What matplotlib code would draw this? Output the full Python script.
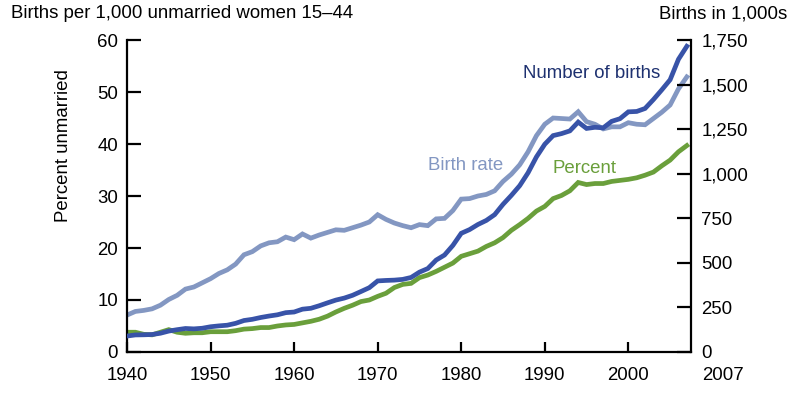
import numpy as np
import matplotlib
matplotlib.use('Agg')
import matplotlib.pyplot as plt

plt.rcParams['font.family'] = ['Liberation Sans', 'DejaVu Sans']

years = list(range(1940, 2008))
# births per 1,000 unmarried women 15-44
birth_rate = [7.1, 7.8, 8.0, 8.3, 9.0, 10.1, 10.9, 12.1, 12.5, 13.3,
              14.1, 15.1, 15.8, 16.9, 18.7, 19.3, 20.4, 21.0, 21.2, 22.1,
              21.6, 22.7, 21.9, 22.5, 23.0, 23.5, 23.4, 23.9, 24.4, 25.0,
              26.4, 25.5, 24.8, 24.3, 23.9, 24.5, 24.3, 25.6, 25.7, 27.2,
              29.4, 29.5, 30.0, 30.3, 31.0, 32.8, 34.2, 36.0, 38.5, 41.6,
              43.8, 45.0, 44.9, 44.8, 46.2, 44.3, 43.8, 42.9, 43.3, 43.3,
              44.1, 43.8, 43.7, 44.9, 46.1, 47.5, 50.6, 52.9]
# percent of births to unmarried women
percent = [3.8, 3.8, 3.4, 3.3, 3.8, 4.3, 3.8, 3.6, 3.7, 3.7,
           3.9, 3.9, 3.9, 4.1, 4.4, 4.5, 4.7, 4.7, 5.0, 5.2,
           5.3, 5.6, 5.9, 6.3, 6.9, 7.7, 8.4, 9.0, 9.7, 10.0,
           10.7, 11.3, 12.4, 13.0, 13.2, 14.3, 14.8, 15.5, 16.3, 17.1,
           18.4, 18.9, 19.4, 20.3, 21.0, 22.0, 23.4, 24.5, 25.7, 27.1,
           28.0, 29.5, 30.1, 31.0, 32.6, 32.2, 32.4, 32.4, 32.8, 33.0,
           33.2, 33.5, 34.0, 34.6, 35.8, 36.9, 38.5, 39.7]
# number of births, thousands
births = [89.5, 95.7, 96.5, 98.1, 105.2, 117.4, 125.2, 131.9, 129.7, 133.2,
          141.6, 146.5, 150.3, 160.8, 176.6, 183.3, 193.5, 201.7, 208.7, 220.6,
          224.3, 240.2, 245.1, 259.4, 275.7, 291.2, 302.4, 318.1, 339.2, 360.8,
          398.7, 401.4, 403.2, 407.3, 418.1, 447.9, 468.1, 515.7, 543.9, 597.8,
          665.7, 686.6, 715.2, 737.9, 770.4, 828.2, 878.5, 933.0, 1005.3, 1094.2,
          1165.4, 1213.8, 1224.9, 1240.2, 1289.6, 1253.9, 1260.3, 1257.4, 1293.6, 1308.6,
          1347.0, 1349.2, 1365.9, 1415.8, 1470.2, 1527.0, 1641.9, 1714.6]

x_ticks = [1940, 1950, 1960, 1970, 1980, 1990, 2000]
left_ticks = [0, 10, 20, 30, 40, 50, 60]
right_ticks = [0, 250, 500, 750, 1000, 1250, 1500, 1750]

c_rate = '#8397C2'
c_births = '#3853A8'
c_births_txt = '#1E3170'
c_pct = '#6A9F3B'

W, H = 800, 398
fig = plt.figure(figsize=(8, 3.98), dpi=100)
ax = fig.add_axes([127/W, 1-352/H, (691-127)/W, (352-40)/H])
ax2 = ax.twinx()

lw = 3.4
ax.plot(years, birth_rate, color=c_rate, lw=lw, solid_joinstyle='miter')
ax.plot(years, percent, color=c_pct, lw=lw, solid_joinstyle='miter')
ax2.plot(years, births, color=c_births, lw=lw, solid_joinstyle='miter')

ax.set_xlim(1940, 2007.5)
ax.set_ylim(0, 60)
ax2.set_ylim(0, 1750)
ax.set_xticks(x_ticks)
ax.set_yticks(left_ticks)
ax2.set_yticks(right_ticks)
ax2.set_yticklabels([f'{v:,}' for v in right_ticks])

for a in (ax, ax2):
    a.spines['top'].set_visible(False)
    for s in a.spines.values():
        s.set_linewidth(1.6)
ax.spines['right'].set_visible(False)
ax2.spines['left'].set_visible(False)
ax2.spines['bottom'].set_visible(False)

fs = 13.4
ax.tick_params(axis='x', direction='in', length=7, width=1.6, pad=10.5, labelsize=fs)
ax.tick_params(axis='y', direction='in', length=10, width=1.6, pad=6.5, labelsize=fs)
ax2.tick_params(axis='y', direction='in', length=10, width=1.6, pad=7.5, labelsize=fs)

fig.text(723/W, 1-375/H, '2007', ha='center', va='center', fontsize=fs)
fig.text(11/W, 1-14/H, 'Births per 1,000 unmarried women 15\u201344', ha='left', va='center', fontsize=fs)
fig.text(787/W, 1-14/H, 'Births in 1,000s', ha='right', va='center', fontsize=fs)
fig.text(63/W, 1-146/H, 'Percent unmarried', ha='center', va='center', rotation=90, fontsize=fs)
fig.text(523/W, 1-73/H, 'Number of births', ha='left', va='center', fontsize=fs, color=c_births_txt)
fig.text(428/W, 1-166/H, 'Birth rate', ha='left', va='center', fontsize=fs, color=c_rate)
fig.text(552/W, 1-168/H, 'Percent', ha='left', va='center', fontsize=fs, color=c_pct)

fig.savefig('out.png', dpi=100)
